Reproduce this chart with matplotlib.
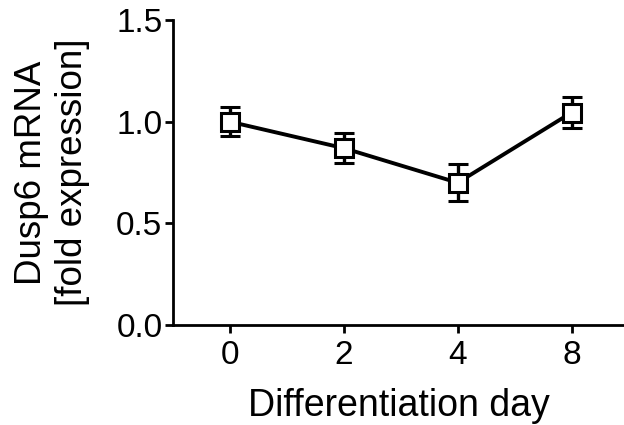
import matplotlib
matplotlib.use("Agg")
import matplotlib.pyplot as plt
from matplotlib.ticker import FormatStrFormatter

days = ["0", "2", "4", "8"]
fold_expression = [1.00, 0.87, 0.70, 1.045]
sem = [0.07, 0.075, 0.09, 0.075]

plt.rcParams['font.family'] = ['Liberation Sans', 'DejaVu Sans']

fig = plt.figure(figsize=(6.24, 4.25), dpi=100)
ax = fig.add_axes([0.277, 0.235, 0.723, 0.718])

x = list(range(len(days)))
ax.errorbar(x, fold_expression, yerr=sem, color='black', linewidth=2.8,
            marker='s', markersize=13, markerfacecolor='white',
            markeredgecolor='black', markeredgewidth=2.2,
            capsize=7, capthick=2.4, elinewidth=2.4, zorder=3)

ax.set_xlim(-0.5, 3.46)
ax.set_ylim(0, 1.5)
ax.set_xticks(x)
ax.set_xticklabels(days)
ax.set_yticks([0, 0.5, 1.0, 1.5])
ax.yaxis.set_major_formatter(FormatStrFormatter('%.1f'))

for s in ['top', 'right']:
    ax.spines[s].set_visible(False)
for s in ['left', 'bottom']:
    ax.spines[s].set_linewidth(2.0)

ax.tick_params(axis='both', direction='out', length=6, width=2.0,
               labelsize=24)
ax.tick_params(axis='x', pad=5)
ax.tick_params(axis='y', pad=1.5)
ax.set_xlabel('Differentiation day', fontsize=27, labelpad=12)
ax.set_ylabel('Dusp6 mRNA\n[fold expression]', fontsize=26.5, labelpad=19,
              linespacing=1.2)

fig.savefig('out.png', dpi=100)
